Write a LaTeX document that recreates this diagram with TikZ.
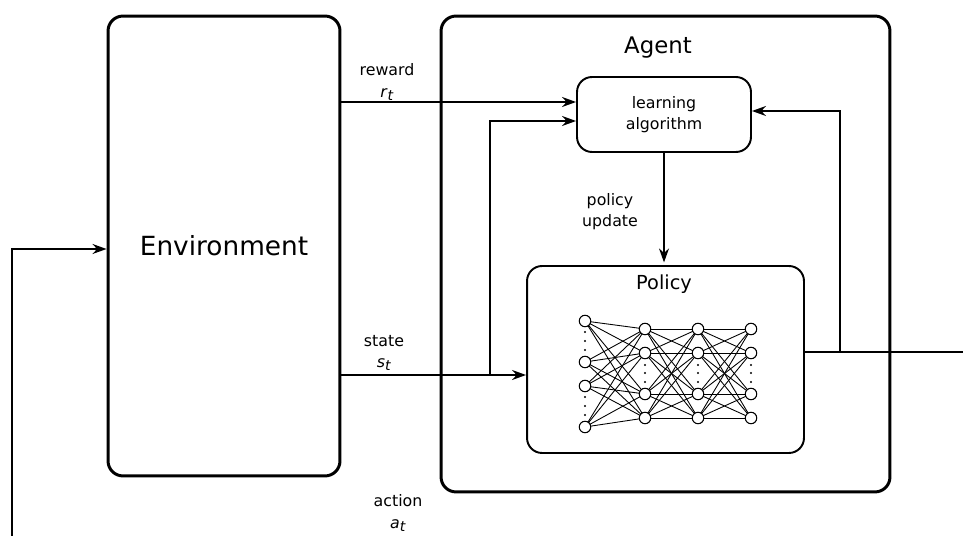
\documentclass[tikz,border=0pt]{standalone}
\usepackage{fontspec}
\setmainfont{DejaVu Sans}
\usetikzlibrary{arrows.meta}
\newcommand{\subit}[2]{\textit{#1}\raisebox{-0.35ex}{\footnotesize\textit{#2}}}
\begin{document}
\begin{tikzpicture}[x=0.02cm,y=-0.02cm,
  bigbox/.style={draw, line width=1.7pt, rounded corners=0.3cm, inner sep=0pt},
  smallbox/.style={draw, line width=1.1pt, rounded corners=0.3cm, inner sep=0pt},
  conn/.style={line width=0.85pt},
  arr/.style={conn, -{Stealth[length=0.28cm,width=0.2cm]}},
  lbl/.style={font=\fontsize{9}{12}\selectfont, align=center},
  neuron/.style={circle, draw, fill=white, line width=0.6pt, minimum size=0.23cm, inner sep=0pt},
  nnedge/.style={line width=0.5pt},
  dotnode/.style={circle, fill=black, minimum size=1.4pt, inner sep=0pt}]
\useasboundingbox (0,0) rectangle (963,536);
\node[bigbox, minimum width=4.64cm, minimum height=9.2cm] (env) at (224,246) {};
\node[font=\fontsize{15}{18}\selectfont] (envlbl) at (224,246) {Environment};
\node[bigbox, minimum width=8.98cm, minimum height=9.52cm] (agent) at (665.5,254) {};
\node[font=\fontsize{13}{16}\selectfont] (agentlbl) at (658,48) {Agent};
\node[smallbox, minimum width=3.48cm, minimum height=1.5cm, lbl] (learn) at (664,114.5) {learning\\algorithm};
\node[smallbox, minimum width=5.54cm, minimum height=3.74cm] (pol) at (665.5,359.5) {};
\node[font=\fontsize{11}{13}\selectfont] (pollbl) at (664,284) {Policy};
% labels
\node[lbl] (rwlbl) at (387,82) {reward\\\subit{r}{t}};
\node[lbl] (stlbl) at (384,353) {state\\\subit{s}{t}};
\node[lbl] (pulbl) at (610,212) {policy\\update};
\node[lbl] (aclbl) at (398,513) {action\\\subit{a}{t}};
% coordinates
\coordinate (rw) at (0,102);
\coordinate (fb) at (0,121);
\coordinate (st) at (0,375);
\coordinate (br1) at (490,375);
\coordinate (ob) at (0,352);
\coordinate (out) at (963,352);
\coordinate (br2) at (840,352);
\coordinate (fb2) at (0,111);
\coordinate (in) at (12,536);
\coordinate (ein) at (0,249);
% connectors
\draw[arr] (env.east |- rw) -- (learn.west |- rw);
\draw[arr] (env.east |- st) -- (pol.west |- st);
\draw[arr] (br1) |- (learn.west |- fb);
\draw[arr] (learn.south) -- ([yshift=1.5pt]learn.south |- pol.north);
\draw[conn] (pol.east |- ob) -- (out);
\draw[arr] (br2) |- (learn.east |- fb2);
\draw[arr] (in) |- (env.west |- ein);
% neural network
\foreach \i/\y in {1/321,2/362,3/386,4/427} \coordinate (a\i) at (585,\y);
\foreach \i/\y in {1/329,2/353,3/394,4/418} {
  \coordinate (b\i) at (645,\y);
  \coordinate (c\i) at (698,\y);
  \coordinate (d\i) at (751,\y);
}
\foreach \i in {1,...,4} \foreach \j in {1,...,4} {
  \draw[nnedge] (a\i) -- (b\j);
  \draw[nnedge] (b\i) -- (c\j);
  \draw[nnedge] (c\i) -- (d\j);
}
\foreach \n in {a1,a2,a3,a4,b1,b2,b3,b4,c1,c2,c3,c4,d1,d2,d3,d4} \node[neuron] (n\n) at (\n) {};
\foreach \y in {332,341,350,397,406,415} \node[dotnode] (da\y) at (585,\y) {};
\foreach \x in {645,698,751} \foreach \y in {365,373,382} \node[dotnode] (dd\x\y) at (\x,\y) {};
\end{tikzpicture}
\end{document}
